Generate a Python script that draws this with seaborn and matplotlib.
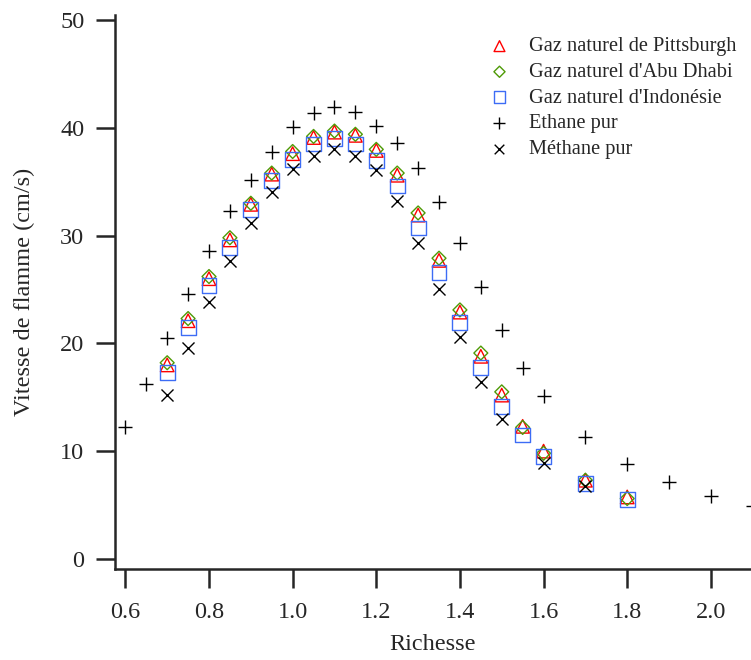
import pandas as pd
import seaborn as sns
import matplotlib.pyplot as plt

# richesse values for the three natural gases
richesse_gaz = [0.7, 0.75, 0.8, 0.85, 0.9, 0.95, 1.0, 1.05, 1.1, 1.15, 1.2,
                1.25, 1.3, 1.35, 1.4, 1.45, 1.5, 1.55, 1.6, 1.7, 1.8]
pittsburgh = [18.0, 22.1, 26.0, 29.6, 32.9, 35.7, 37.6, 39.1, 39.6, 39.3, 37.9,
              35.6, 31.9, 27.7, 22.9, 18.8, 15.2, 12.3, 10.0, 7.3, 5.75]
abu_dhabi = [18.2, 22.3, 26.2, 29.8, 33.0, 35.8, 37.8, 39.2, 39.7, 39.4, 38.0,
             35.8, 32.1, 27.9, 23.1, 19.1, 15.5, 12.2, 9.8, 7.3, 5.6]
indonesie = [17.3, 21.5, 25.4, 28.9, 32.4, 35.1, 37.1, 38.5, 39.0, 38.5, 37.0,
             34.6, 30.7, 26.6, 21.9, 17.8, 14.1, 11.5, 9.5, 7.0, 5.5]

richesse_ethane = [0.6, 0.65, 0.7, 0.75, 0.8, 0.85, 0.9, 0.95, 1.0, 1.05, 1.1,
                   1.15, 1.2, 1.25, 1.3, 1.35, 1.4, 1.45, 1.5, 1.55, 1.6, 1.7,
                   1.8, 1.9, 2.0, 2.1]
ethane = [12.2, 16.2, 20.5, 24.6, 28.6, 32.3, 35.2, 37.8, 40.1, 41.4, 41.9,
          41.5, 40.2, 38.6, 36.3, 33.1, 29.3, 25.2, 21.2, 17.7, 15.1, 11.3,
          8.8, 7.1, 5.8, 4.9]

richesse_methane = [0.7, 0.75, 0.8, 0.85, 0.9, 0.95, 1.0, 1.05, 1.1, 1.15, 1.2,
                    1.25, 1.3, 1.35, 1.4, 1.45, 1.5, 1.6, 1.7]
methane = [15.2, 19.6, 23.8, 27.6, 31.2, 34.0, 36.2, 37.4, 38.0, 37.4, 36.1,
           33.2, 29.3, 25.0, 20.6, 16.4, 13.0, 8.9, 6.8]

x_ticks = [0.6, 0.8, 1.0, 1.2, 1.4, 1.6, 1.8, 2.0]
y_ticks = [0, 10, 20, 30, 40, 50]

sns.set_style("ticks")
plt.rcParams['font.family'] = ['Liberation Serif', 'DejaVu Serif']

fig = plt.figure(figsize=(7.51, 6.6), dpi=100)
ax = fig.add_axes([0.153, 0.138, 0.847, 0.839])

series = [
    (richesse_gaz, pittsburgh, "Gaz naturel de Pittsburgh", "^", "#ff0000", 95),
    (richesse_gaz, abu_dhabi, "Gaz naturel d'Abu Dhabi", "D", "#4e9a06", 50),
    (richesse_gaz, indonesie, "Gaz naturel d'Indonésie", "s", "#3d6cf5", 115),
]
for xs, ys, lab, mk, col, size in series:
    sns.scatterplot(x=xs, y=ys, marker=mk, s=size, facecolor="none",
                    edgecolor=col, linewidth=1.0, label=lab, ax=ax, zorder=3)

sns.scatterplot(x=richesse_ethane, y=ethane, marker="+", s=100, color="black",
                linewidth=1.0, label="Ethane pur", ax=ax, zorder=3)
sns.scatterplot(x=richesse_methane, y=methane, marker="x", s=75, color="black",
                linewidth=1.0, label="Méthane pur", ax=ax, zorder=3)

ax.set_xlim(0.575, 2.096)
ax.set_ylim(-0.93, 50.45)
ax.set_xticks(x_ticks)
ax.set_xticklabels([f"{v:.1f}" for v in x_ticks])
ax.set_yticks(y_ticks)
sns.despine(ax=ax)
for s in ["left", "bottom"]:
    ax.spines[s].set_linewidth(1.8)
ax.tick_params(direction="out", length=14, width=1.8, labelsize=17.5)
ax.tick_params(axis="x", pad=10)
ax.tick_params(axis="y", pad=8)
ax.set_xlabel("Richesse", fontsize=17.5, labelpad=8)
ax.set_ylabel("Vitesse de flamme (cm/s)", fontsize=17.5, labelpad=18)

ax.legend(loc="upper right", frameon=False, fontsize=14.7, handletextpad=0.45,
          labelspacing=0.31, borderaxespad=0.0, markerscale=0.8,
          bbox_to_anchor=(0.99, 0.975))

fig.savefig("out.png", dpi=100)
